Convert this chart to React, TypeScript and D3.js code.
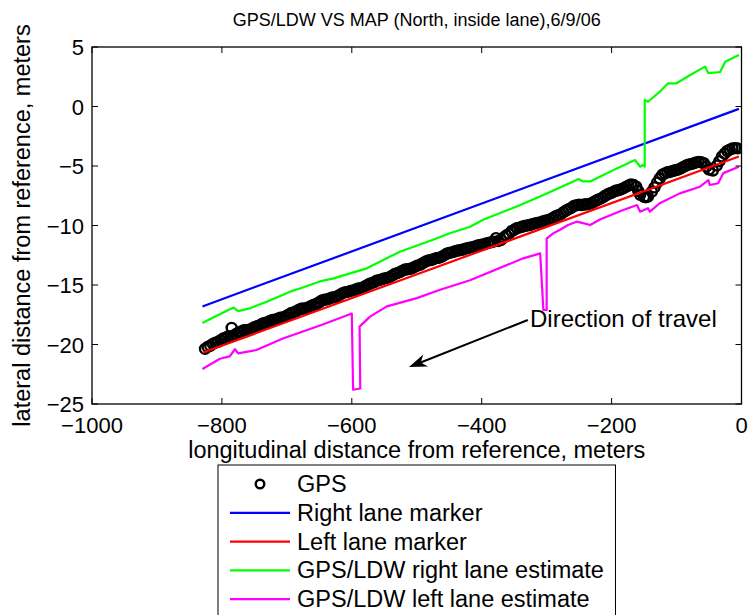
import React from "react";
import * as d3 from "d3";

const title = "GPS/LDW VS MAP (North, inside lane),6/9/06";
const xLabel = "longitudinal distance from reference, meters";
const yLabel = "lateral distance from reference, meters";
const xTicks = [-1000, -800, -600, -400, -200, 0];
const yTicks = [5, 0, -5, -10, -15, -20, -25];

const gpsX = [-826, -818, -810, -802, -794, -786, -778, -770, -762, -754, -746, -738, -730, -722, -714, -706, -698, -690, -682, -674, -666, -658, -650, -642, -634, -626, -618, -610, -602, -594, -586, -578, -570, -562, -554, -546, -538, -530, -522, -514, -506, -498, -490, -482, -474, -466, -458, -450, -442, -434, -426, -418, -410, -402, -394, -386, -378, -370, -362, -354, -346, -338, -330, -322, -314, -306, -298, -290, -282, -274, -266, -258, -250, -242, -234, -226, -218, -210, -202, -194, -186, -178, -170, -162, -156, -150, -144, -138, -130, -122, -114, -106, -98, -90, -82, -74, -66, -58, -50, -44, -38, -30, -22, -14, -6, -785,
  -822, -814, -806, -798, -790, -782, -774, -766, -758, -750, -742, -734, -726, -718, -710, -702, -694, -686, -678, -670, -662, -654, -646, -638, -630, -622, -614, -606, -598, -590, -582, -574, -566, -558, -550, -542, -534, -526, -518, -510, -502, -494, -486, -478, -470, -462, -454, -446, -438, -430, -422, -414, -406, -398, -390, -382, -374, -366, -358, -350, -342, -334, -326, -318, -310, -302, -294, -286, -278, -270, -262, -254, -246, -238, -230, -222, -214, -206, -198, -190, -182, -174, -166, -159, -147, -134, -126, -118, -110, -102, -94, -86, -78, -70, -62, -54, -34, -26, -18, -10];
const gpsY = [-20.37, -20.11, -19.85, -19.64, -19.43, -19.32, -19.11, -18.9, -18.79, -18.68, -18.47, -18.26, -18.15, -17.94, -17.83, -17.72, -17.51, -17.3, -17.09, -16.98, -16.87, -16.66, -16.45, -16.24, -16.13, -16.02, -15.81, -15.6, -15.49, -15.38, -15.27, -15.06, -14.85, -14.64, -14.53, -14.42, -14.21, -14.0, -13.79, -13.68, -13.57, -13.36, -13.15, -12.94, -12.83, -12.72, -12.51, -12.3, -12.19, -12.08, -11.97, -11.86, -11.75, -11.64, -11.53, -11.42, -11.06, -11.2, -10.84, -10.48, -10.22, -10.11, -10.0, -9.89, -9.78, -9.67, -9.56, -9.35, -9.14, -8.88, -8.62, -8.36, -8.25, -8.24, -8.18, -7.97, -7.76, -7.5, -7.29, -7.08, -6.97, -6.76, -6.55, -6.74, -7.42, -7.6, -7.58, -7.16, -6.4, -5.74, -5.53, -5.42, -5.31, -5.1, -4.89, -4.78, -4.67, -4.76, -5.3, -5.38, -4.96, -4.2, -3.74, -3.53, -3.52, -18.6,
  -20.2, -19.95, -19.78, -19.5, -19.3, -19.25, -18.98, -18.8, -18.76, -18.55, -18.4, -18.18, -18.02, -17.92, -17.74, -17.64, -17.38, -17.22, -17.0, -16.95, -16.74, -16.58, -16.3, -16.21, -16.05, -15.94, -15.68, -15.58, -15.45, -15.3, -15.18, -14.94, -14.78, -14.6, -14.45, -14.34, -14.08, -13.92, -13.7, -13.64, -13.44, -13.28, -13.02, -12.9, -12.74, -12.64, -12.38, -12.26, -12.12, -12.04, -11.9, -11.82, -11.68, -11.6, -11.46, -11.36, -11.3, -11.0, -10.7, -10.36, -10.18, -10.04, -9.96, -9.82, -9.74, -9.6, -9.48, -9.22, -9.04, -8.74, -8.52, -8.3, -8.28, -8.22, -8.1, -7.86, -7.66, -7.38, -7.2, -7.04, -6.88, -6.64, -6.6, -7.1, -7.62, -6.8, -6.05, -5.62, -5.5, -5.36, -5.22, -4.98, -4.84, -4.7, -4.68, -5.05, -4.6, -3.96, -3.62, -3.5];

const rightMarkerX = [-830, -4];
const rightMarkerY = [-16.8, -0.2];
const leftMarkerX = [-830, -4];
const leftMarkerY = [-20.7, -4.2];

const greenX = [-830, -805, -782, -775, -757, -731, -695, -680, -649, -628, -577, -526, -475, -449, -418, -397, -346, -305, -259, -251, -244, -233, -218, -192, -164, -156, -151, -149, -149, -144, -126, -113, -100, -79, -56, -51, -33, -25, -4];
const greenY = [-18.2, -17.5, -16.9, -17.2, -16.96, -16.4, -15.56, -15.3, -14.7, -14.44, -13.6, -12.2, -11.2, -10.65, -10.1, -9.5, -8.4, -7.44, -6.3, -6.1, -6.3, -6.3, -5.9, -5.2, -4.5, -5.06, -4.9, -5.06, 0.55, 0.4, 1.24, 1.95, 1.95, 2.65, 3.35, 2.8, 2.9, 3.77, 4.33];

const magentaX = [-830, -803, -788, -780, -775, -747, -706, -649, -600, -598, -587, -588, -572, -546, -500, -464, -418, -336, -310, -305, -300, -300, -290, -280, -267, -254, -244, -233, -218, -187, -161, -156, -144, -141, -126, -95, -64, -51, -49, -36, -28, -4];
const magentaY = [-22.06, -21.2, -21.0, -20.4, -20.74, -20.46, -19.5, -18.4, -17.4, -23.8, -23.7, -18.5, -17.66, -16.8, -16.1, -15.4, -14.6, -12.76, -12.34, -17.1, -17.1, -11.1, -10.66, -10.38, -9.96, -9.68, -9.8, -9.96, -9.5, -8.8, -8.28, -8.84, -8.55, -8.84, -8.13, -7.3, -6.74, -6.18, -6.6, -6.45, -5.6, -5.06];

const legendLabels = ["GPS", "Right lane marker", "Left lane marker", "GPS/LDW right lane estimate", "GPS/LDW left lane estimate"];
const legendColors = ["#000000", "#0000ff", "#ff0000", "#00ff00", "#ff00ff"];

const annotationText = "Direction of travel";
const arrowFrom = [-329, -17.94];
const arrowTo = [-512, -21.9];

const W = 749;
const H = 615;
const left = 92, right = 741.5, top = 47, bottom = 404;
const FONT = "'Liberation Sans', Arial, Helvetica, sans-serif";

export default function App() {
  const x = d3.scaleLinear().domain([-1000, 0]).range([left, right]);
  const y = d3.scaleLinear().domain([-25, 5]).range([bottom, top]);
  const line = (xs: number[], ys: number[]) =>
    d3.line<number>().x((_, i) => x(xs[i])).y((_, i) => y(ys[i]))(xs.map((v) => v)) || "";

  const ax = x(arrowFrom[0]), ay = y(arrowFrom[1]);
  const bx = x(arrowTo[0]), by = y(arrowTo[1]);
  const ang = Math.atan2(by - ay, bx - ax);
  const hl = 18, hw = 6.5;
  const p1 = [bx - hl * Math.cos(ang) + hw * Math.sin(ang), by - hl * Math.sin(ang) - hw * Math.cos(ang)];
  const p2 = [bx - hl * Math.cos(ang) - hw * Math.sin(ang), by - hl * Math.sin(ang) + hw * Math.cos(ang)];
  const pm = [bx - hl * 0.7 * Math.cos(ang), by - hl * 0.7 * Math.sin(ang)];

  const cx = (left + right) / 2;
  const legX = 218, legY = 465, legW = 2 * (cx - legX), legH = 160, legStep = 28.8;

  return (
    <svg width={W} height={H} style={{ position: "absolute", left: 0, top: 0, fontFamily: FONT }}>
      <rect width={W} height={H} fill="#fff" />
      <text x={cx} y={26} textAnchor="middle" fontSize={18}>{title}</text>
      <defs>
        <clipPath id="plotclip">
          <rect x={left} y={top} width={right - left} height={bottom - top} />
        </clipPath>
      </defs>
      <g clipPath="url(#plotclip)">
        <path d={line(rightMarkerX, rightMarkerY)} fill="none" stroke="#0000ff" strokeWidth={2.2} />
        <path d={line(greenX, greenY)} fill="none" stroke="#00ff00" strokeWidth={2.2} strokeLinejoin="round" />
        <path d={line(magentaX, magentaY)} fill="none" stroke="#ff00ff" strokeWidth={2.2} strokeLinejoin="round" />
        {gpsX.map((gx, i) => (
          <circle key={i} cx={x(gx)} cy={y(gpsY[i])} r={5} fill="none" stroke="#000" strokeWidth={2.4} />
        ))}
        <path d={line(leftMarkerX, leftMarkerY)} fill="none" stroke="#ff0000" strokeWidth={2.2} />
      </g>
      {/* annotation */}
      <line x1={ax} y1={ay} x2={pm[0]} y2={pm[1]} stroke="#000" strokeWidth={2} />
      <path d={`M${bx},${by}L${p1[0]},${p1[1]}L${pm[0]},${pm[1]}L${p2[0]},${p2[1]}Z`} fill="#000" />
      <text x={530} y={327} fontSize={24}>{annotationText}</text>
      {/* axes box */}
      <rect x={left} y={top} width={right - left} height={bottom - top} fill="none" stroke="#000" strokeWidth={1.3} />
      {xTicks.map((t) => (
        <g key={"x" + t}>
          <line x1={x(t)} x2={x(t)} y1={bottom} y2={bottom - 6} stroke="#000" strokeWidth={1} />
          <line x1={x(t)} x2={x(t)} y1={top} y2={top + 6} stroke="#000" strokeWidth={1} />
          <text x={x(t)} y={433} textAnchor="middle" fontSize={22}>{t < 0 ? "\u2212" + Math.abs(t) : String(t)}</text>
        </g>
      ))}
      {yTicks.map((t) => (
        <g key={"y" + t}>
          <line x1={left} x2={left + 6} y1={y(t)} y2={y(t)} stroke="#000" strokeWidth={1} />
          <line x1={right} x2={right - 6} y1={y(t)} y2={y(t)} stroke="#000" strokeWidth={1} />
          <text x={84} y={y(t) + 8} textAnchor="end" fontSize={22}>{t < 0 ? "\u2212" + Math.abs(t) : String(t)}</text>
        </g>
      ))}
      <text x={cx} y={458} textAnchor="middle" fontSize={23.5}>{xLabel}</text>
      <text transform={`translate(30,${(top + bottom) / 2}) rotate(-90)`} textAnchor="middle" fontSize={23.5}>{yLabel}</text>
      {/* legend */}
      <rect x={legX} y={legY} width={legW} height={legH} fill="#fff" stroke="#000" strokeWidth={1} />
      {legendLabels.map((lab, i) => {
        const cyy = legY + 19 + i * legStep;
        return (
          <g key={lab}>
            {i === 0 ? (
              <circle cx={260} cy={cyy} r={4.3} fill="none" stroke={legendColors[i]} strokeWidth={2.4} />
            ) : (
              <line x1={230} x2={290} y1={cyy} y2={cyy} stroke={legendColors[i]} strokeWidth={2.2} />
            )}
            <text x={297} y={cyy + 8} fontSize={23.5}>{lab}</text>
          </g>
        );
      })}
    </svg>
  );
}
